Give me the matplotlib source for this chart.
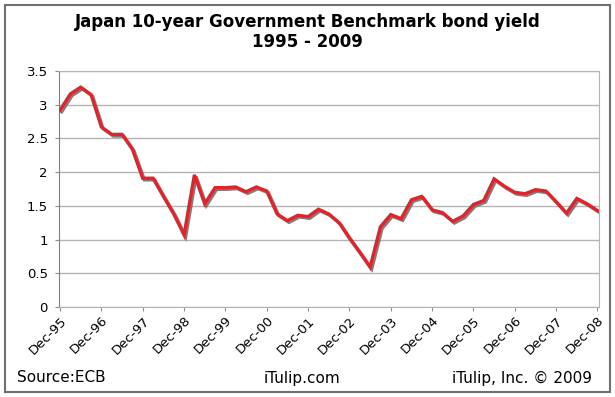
import matplotlib
matplotlib.use("Agg")
import matplotlib.pyplot as plt
import matplotlib.patheffects as pe
from matplotlib.patches import Rectangle

# quarterly yields, Dec-95 .. Dec-08
yields = [2.92, 3.16, 3.26, 3.15, 2.67, 2.56, 2.56, 2.34, 1.91, 1.91,
          1.64, 1.38, 1.07, 1.96, 1.53, 1.77, 1.77, 1.78, 1.71, 1.78,
          1.72, 1.38, 1.28, 1.36, 1.34, 1.45, 1.38, 1.25, 1.02, 0.81,
          0.59, 1.19, 1.37, 1.31, 1.59, 1.64, 1.44, 1.40, 1.27, 1.35,
          1.52, 1.58, 1.90, 1.79, 1.70, 1.68, 1.74, 1.72, 1.56, 1.39,
          1.61, 1.53, 1.43]
year_labels = ["Dec-95", "Dec-96", "Dec-97", "Dec-98", "Dec-99", "Dec-00", "Dec-01",
               "Dec-02", "Dec-03", "Dec-04", "Dec-05", "Dec-06", "Dec-07", "Dec-08"]
y_ticks = [0, 0.5, 1, 1.5, 2, 2.5, 3, 3.5]
y_labels = ["0", "0.5", "1", "1.5", "2", "2.5", "3", "3.5"]

W, H = 615, 397
fig = plt.figure(figsize=(W / 100, H / 100), dpi=100)
fig.patch.set_facecolor("white")

# plot area in pixels: left 59, right 599, top 71, bottom 307
ax = fig.add_axes([59 / W, 1 - 307 / H, (599 - 59) / W, (307 - 71) / H])

x = list(range(len(yields)))
ax.plot(x, yields, color="#e0242b", lw=2.4, solid_joinstyle="miter",
        path_effects=[pe.SimpleLineShadow(offset=(1.2, -1.2), shadow_color="#707070", alpha=0.9),
                      pe.Normal()], zorder=3)

ax.set_xlim(-0.1, 52.15)
ax.set_ylim(0, 3.5)
ax.set_yticks(y_ticks)
ax.set_yticklabels(y_labels)
ax.set_xticks(list(range(0, 53, 4)))
ax.set_xticklabels(year_labels, rotation=45, ha="right", va="top", rotation_mode="anchor")
ax.grid(axis="y", color="#b4b4b4", lw=1)
ax.set_axisbelow(True)
ax.tick_params(axis="both", length=3, width=0.8, color="#909090")
ax.tick_params(axis="x", labelsize=9.5, pad=2)
ax.tick_params(axis="y", labelsize=9.5, pad=5)
for side in ["top", "right", "bottom"]:
    ax.spines[side].set_color("#b4b4b4")
ax.spines["left"].set_color("#808080")

fig.text(0.5, 1 - 22 / H, "Japan 10-year Government Benchmark bond yield",
         ha="center", va="center", fontsize=12, fontweight="bold")
fig.text(0.5, 1 - 42 / H, "1995 - 2009", ha="center", va="center", fontsize=12, fontweight="bold")

fig.text(17 / W, 1 - 378 / H, "Source:ECB", ha="left", va="center", fontsize=11)
fig.text(302 / W, 1 - 378 / H, "iTulip.com", ha="center", va="center", fontsize=11)
fig.text(592 / W, 1 - 378 / H, "iTulip, Inc. \u00a9 2009", ha="right", va="center", fontsize=11)

fig.patches.append(Rectangle((4.5 / W, 5 / H), 605.5 / W, 387 / H, transform=fig.transFigure,
                             fill=False, edgecolor="#707070", lw=1.5))

fig.savefig("out.png", dpi=100)
